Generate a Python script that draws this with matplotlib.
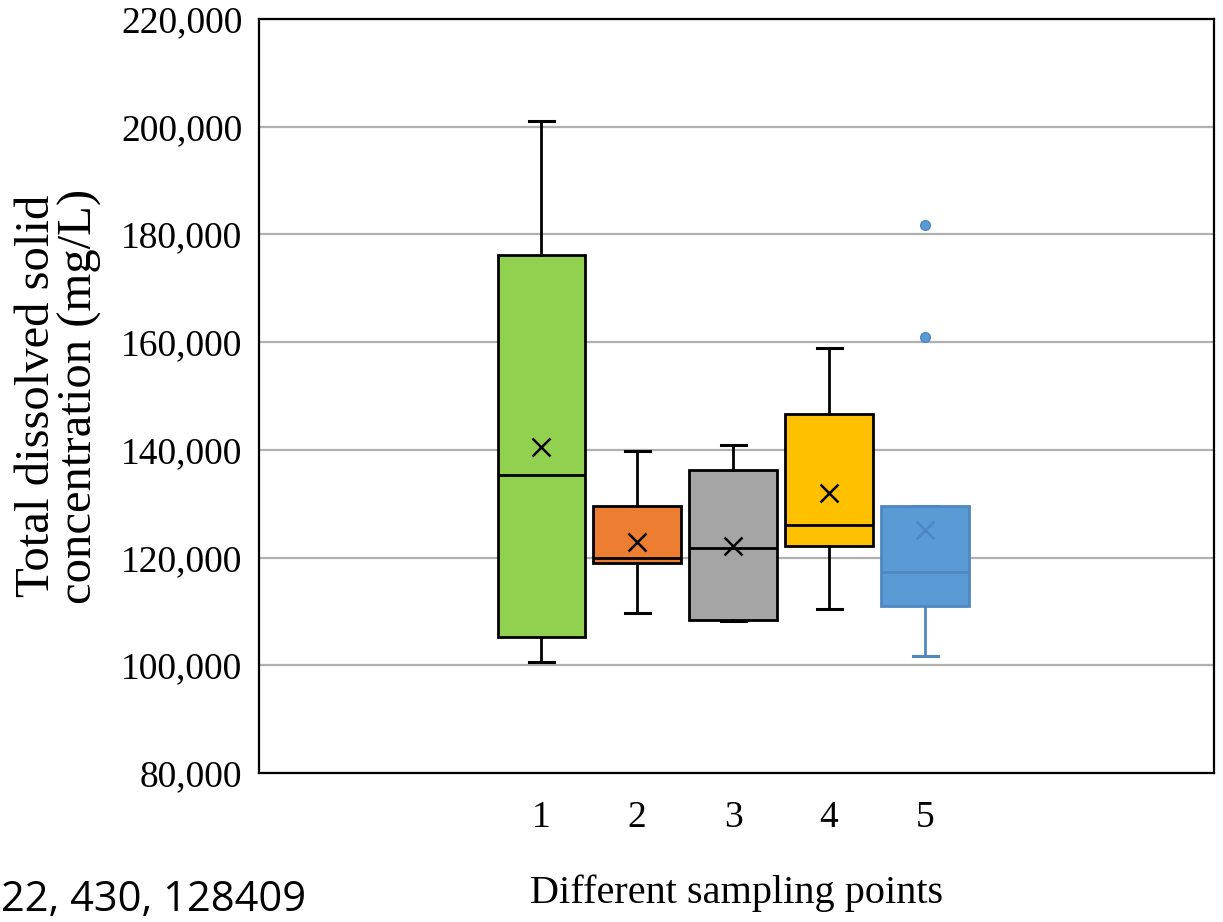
import matplotlib.pyplot as plt

# statistics (mg/L)
puntos = [1, 2, 3, 4, 5]
minimos = [100700, 109800, 108200, 110400, 101800]
q1 = [105200, 119000, 108500, 122100, 111100]
medianas = [135400, 120000, 121800, 126100, 117300]
q3 = [176200, 129500, 136200, 146700, 129500]
maximos = [201000, 139800, 140900, 158900, 129500]
medias = [140600, 122900, 122200, 131900, 125100]
atipicos = [[], [], [], [], [181700, 160900]]

colores = ['#92d050', '#ed7d31', '#a5a5a5', '#ffc000', '#5b9bd5']
bordes = ['black', 'black', 'black', 'black', '#4f87c0']

plt.rcParams['font.family'] = ['Liberation Serif', 'DejaVu Serif']

fig = plt.figure(figsize=(12.23, 9.22), dpi=100)
ax = fig.add_axes([0.2118, 0.1616, 0.7808, 0.8178])

stats = []
for i in range(len(puntos)):
    stats.append(dict(label=str(puntos[i]), whislo=minimos[i], q1=q1[i], med=medianas[i],
                      q3=q3[i], whishi=maximos[i], mean=medias[i], fliers=atipicos[i]))

for i, s in enumerate(stats):
    c = bordes[i]
    ax.bxp([s], positions=[puntos[i]], widths=0.91, patch_artist=True, showmeans=True,
           showfliers=True, capwidths=[0.26],
           boxprops=dict(facecolor=colores[i], edgecolor=c, linewidth=2),
           medianprops=dict(color=c, linewidth=2),
           whiskerprops=dict(color=c, linewidth=2),
           capprops=dict(color=c, linewidth=2.2),
           meanprops=dict(marker='x', markeredgecolor=c, markersize=13, markeredgewidth=1.8),
           flierprops=dict(marker='o', markerfacecolor='#5b9bd5', markeredgecolor='#4f87c0',
                           markersize=7),
           zorder=3)

ax.set_xlim(-1.94, 8.01)
ax.set_ylim(80000, 220000)
ax.set_yticks(range(80000, 220001, 20000))
ax.set_yticklabels([f"{v:,}" for v in range(80000, 220001, 20000)])
ax.set_xticks(puntos)
ax.set_xticklabels([str(p) for p in puntos])
ax.tick_params(axis='both', length=0, labelsize=27)
ax.tick_params(axis='x', pad=20)
ax.tick_params(axis='y', pad=12)
ax.grid(axis='y', color='#b0b0b0', linewidth=1.6, zorder=0)
ax.set_axisbelow(True)
for sp in ax.spines.values():
    sp.set_linewidth(1.6)
    sp.set_color('black')

ax.set_ylabel("Total dissolved solid\nconcentration (mg/L)", fontsize=35, linespacing=0.95, labelpad=14)
ax.set_xlabel("Different sampling points", fontsize=29, labelpad=28)

fig.text(0.001, 0.012, "22, 430, 128409", fontsize=30, family=['Open Sans', 'DejaVu Sans'],
         ha='left', va='baseline')

fig.savefig("out.png", dpi=100)
